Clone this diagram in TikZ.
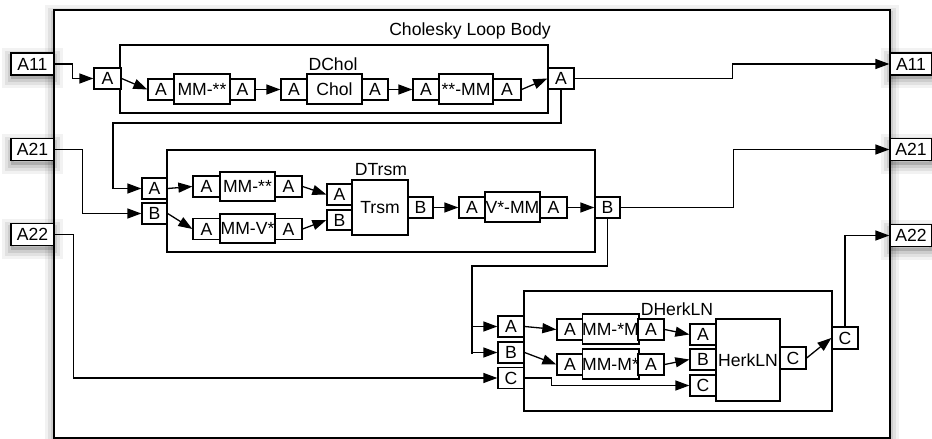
\documentclass[tikz,border=0pt]{standalone}
\usepackage{fontspec}
\setmainfont{Liberation Sans}
\usetikzlibrary{arrows.meta}
\begin{document}
\begin{tikzpicture}[x=1pt,y=-1pt,
  lbl/.style={font=\fontsize{17.6}{20}\selectfont},
  pbox/.style={draw, fill=white, line width=1.3pt, inner sep=0pt, minimum width=26pt, minimum height=21pt, lbl},
  fbox/.style={pbox, minimum width=55pt, minimum height=30pt},
  cont/.style={draw, line width=1.3pt, inner sep=0pt},
  wire/.style={line width=1.3pt},
  conn/.style={wire, -{Triangle[length=14pt,width=10pt]}},
  shad/.style={
    preaction={draw=black, line width=18pt, opacity=.05, transform canvas={yshift=-4pt}},
    preaction={draw=black, line width=12pt, opacity=.07, transform canvas={yshift=-4pt}},
    preaction={draw=black, line width=6pt, opacity=.09, transform canvas={yshift=-4pt}},
    preaction={fill=black, opacity=.15, transform canvas={yshift=-4pt}}},
]
\useasboundingbox (0,0) rectangle (932,439);
% outer body
\node[cont, fill=white, shad, line width=1.7pt, minimum width=836pt, minimum height=428pt] (body) at (472,224) {};
\node[lbl, anchor=base] (title) at (470,35) {Cholesky Loop Body};
% outer ports
\node[pbox, shad, minimum width=43pt, minimum height=22pt] (LA11) at (32.5,64) {A11};
\node[pbox, shad, minimum width=43pt, minimum height=22pt] (LA21) at (32.5,149.5) {A21};
\node[pbox, shad, minimum width=43pt, minimum height=22pt] (LA22) at (32.5,234.5) {A22};
\node[pbox, shad, minimum width=42pt, minimum height=22pt] (RA11) at (911,64) {A11};
\node[pbox, shad, minimum width=42pt, minimum height=22pt] (RA21) at (911,149.5) {A21};
\node[pbox, shad, minimum width=42pt, minimum height=22pt] (RA22) at (911,235.5) {A22};

% DChol
\node[cont, minimum width=428pt, minimum height=68pt] (dchol) at (334,79) {};
\node[lbl, anchor=base] (dcholt) at (333,70) {DChol};
\node[pbox, minimum width=27pt] (dAin) at (107.5,78.5) {A};
\node[pbox] (d1a) at (161,89.5) {A};
\node[fbox, minimum width=56pt] (d1) at (202,89) {MM-**};
\node[pbox, minimum width=25pt] (d1b) at (242.5,89.5) {A};
\node[pbox] (d2a) at (294,89.5) {A};
\node[fbox] (d2) at (334.5,89) {Chol};
\node[pbox] (d2b) at (375,89.5) {A};
\node[pbox] (d3a) at (426,89.5) {A};
\node[fbox, minimum width=54pt] (d3) at (466,89) {**-MM};
\node[pbox, minimum width=28pt] (d3b) at (507,89.5) {A};
\node[pbox] (dAout) at (561,78.5) {A};

% DTrsm
\node[cont, minimum width=428pt, minimum height=102pt] (dtrsm) at (381,201) {};
\node[lbl, anchor=base] (dtrsmt) at (381,175) {DTrsm};
\node[pbox, minimum width=25pt] (tAin) at (154.5,188.5) {A};
\node[pbox, minimum width=25pt] (tBin) at (154.5,213.5) {B};
\node[pbox, minimum width=27pt] (t1a) at (206.5,186.5) {A};
\node[fbox, minimum height=29pt] (t1) at (247.5,186.5) {MM-**};
\node[pbox, minimum width=27pt] (t1b) at (288.5,186.5) {A};
\node[pbox, minimum width=27pt] (t2a) at (206.5,229) {A};
\node[fbox, minimum height=29pt] (t2) at (247.5,228.5) {MM-V*};
\node[pbox, minimum width=27pt] (t2b) at (288.5,229) {A};
\node[pbox, minimum width=25pt] (tra) at (339.5,194.5) {A};
\node[pbox, minimum width=25pt, minimum height=20pt] (trb) at (339.5,220) {B};
\node[fbox, minimum width=56pt, minimum height=55pt] (trsm) at (380,207.5) {Trsm};
\node[pbox, minimum width=25pt] (trout) at (420.5,207.5) {B};
\node[pbox] (t3a) at (472,207.5) {A};
\node[fbox] (t3) at (512.5,207) {V*-MM};
\node[pbox, minimum width=27pt] (t3b) at (553.5,207.5) {A};
\node[pbox, minimum width=25pt] (tBout) at (607.5,207.5) {B};

% DHerkLN
\node[cont, minimum width=308pt, minimum height=120pt] (dherk) at (678,351) {};
\node[lbl, anchor=base] (dherkt) at (677,315) {DHerkLN};
\node[pbox] (hAin) at (511,326.5) {A};
\node[pbox] (hBin) at (511,352.5) {B};
\node[pbox] (hCin) at (511,378) {C};
\node[pbox] (h1a) at (570,329.5) {A};
\node[fbox] (h1) at (610.5,329) {MM-*M};
\node[pbox] (h1b) at (651,329.5) {A};
\node[pbox] (h2a) at (570,364.5) {A};
\node[fbox] (h2) at (610.5,364) {MM-M*};
\node[pbox] (h2b) at (651,364.5) {A};
\node[pbox] (hka) at (703,334.5) {A};
\node[pbox] (hkb) at (703,359.5) {B};
\node[pbox] (hkc) at (703,385.5) {C};
\node[fbox, minimum width=64pt, minimum height=82pt] (herk) at (748,360) {HerkLN};
\node[pbox, minimum height=22pt] (hkout) at (793,358) {C};
\node[pbox, minimum height=22pt] (hCout) at (845,338) {C};

% bend points
\coordinate (b1) at (113,123);
\coordinate (b2) at (472,266);
\coordinate (b3) at (472,354);

% connectors: DChol
\draw[conn] (LA11.east) -- ++(18,0) |- (dAin.west);
\draw[conn] (dAin.east) -- (d1a.west);
\draw[conn] (d1b.east) -- (d2a.west);
\draw[conn] (d2b.east) -- (d3a.west);
\draw[conn] (d3b.east) -- (dAout.west);
\draw[conn] (dAout.east) -- ++(158,0) |- (RA11.west);
\draw[conn] (dAout.south) |- (b1) |- (tAin.west);

% connectors: DTrsm
\draw[conn] (LA21.east) -- ++(28,0) |- (tBin.west);
\draw[conn] (tAin.east) -- (t1a.west);
\draw[conn] (tBin.east) -- (t2a.west);
\draw[conn] (t1b.east) -- (tra.west);
\draw[conn] (t2b.east) -- (trb.west);
\draw[conn] (trout.east) -- (t3a.west);
\draw[conn] (t3b.east) -- (tBout.west);
\draw[conn] (tBout.east) -- ++(113,0) |- (RA21.west);
\draw[wire] (tBout.south) |- (b2) -- (b3);
\draw[conn] (b3 |- hAin.west) -- (hAin.west);
\draw[conn] (b3 |- hBin.west) -- (hBin.west);

% connectors: DHerkLN
\draw[conn] (LA22.east) -- ++(19,0) |- (hCin.west);
\draw[conn] (hAin.east) -- (h1a.west);
\draw[conn] (hBin.east) -- (h2a.west);
\draw[conn] (h1b.east) -- (hka.west);
\draw[conn] (h2b.east) -- (hkb.west);
\draw[conn] (hCin.east) -- ++(27,0) |- (hkc.west);
\draw[conn] (hkout.east) -- (hCout.west);
\draw[conn] (hCout.north) |- (RA22.west);
\end{tikzpicture}
\end{document}
